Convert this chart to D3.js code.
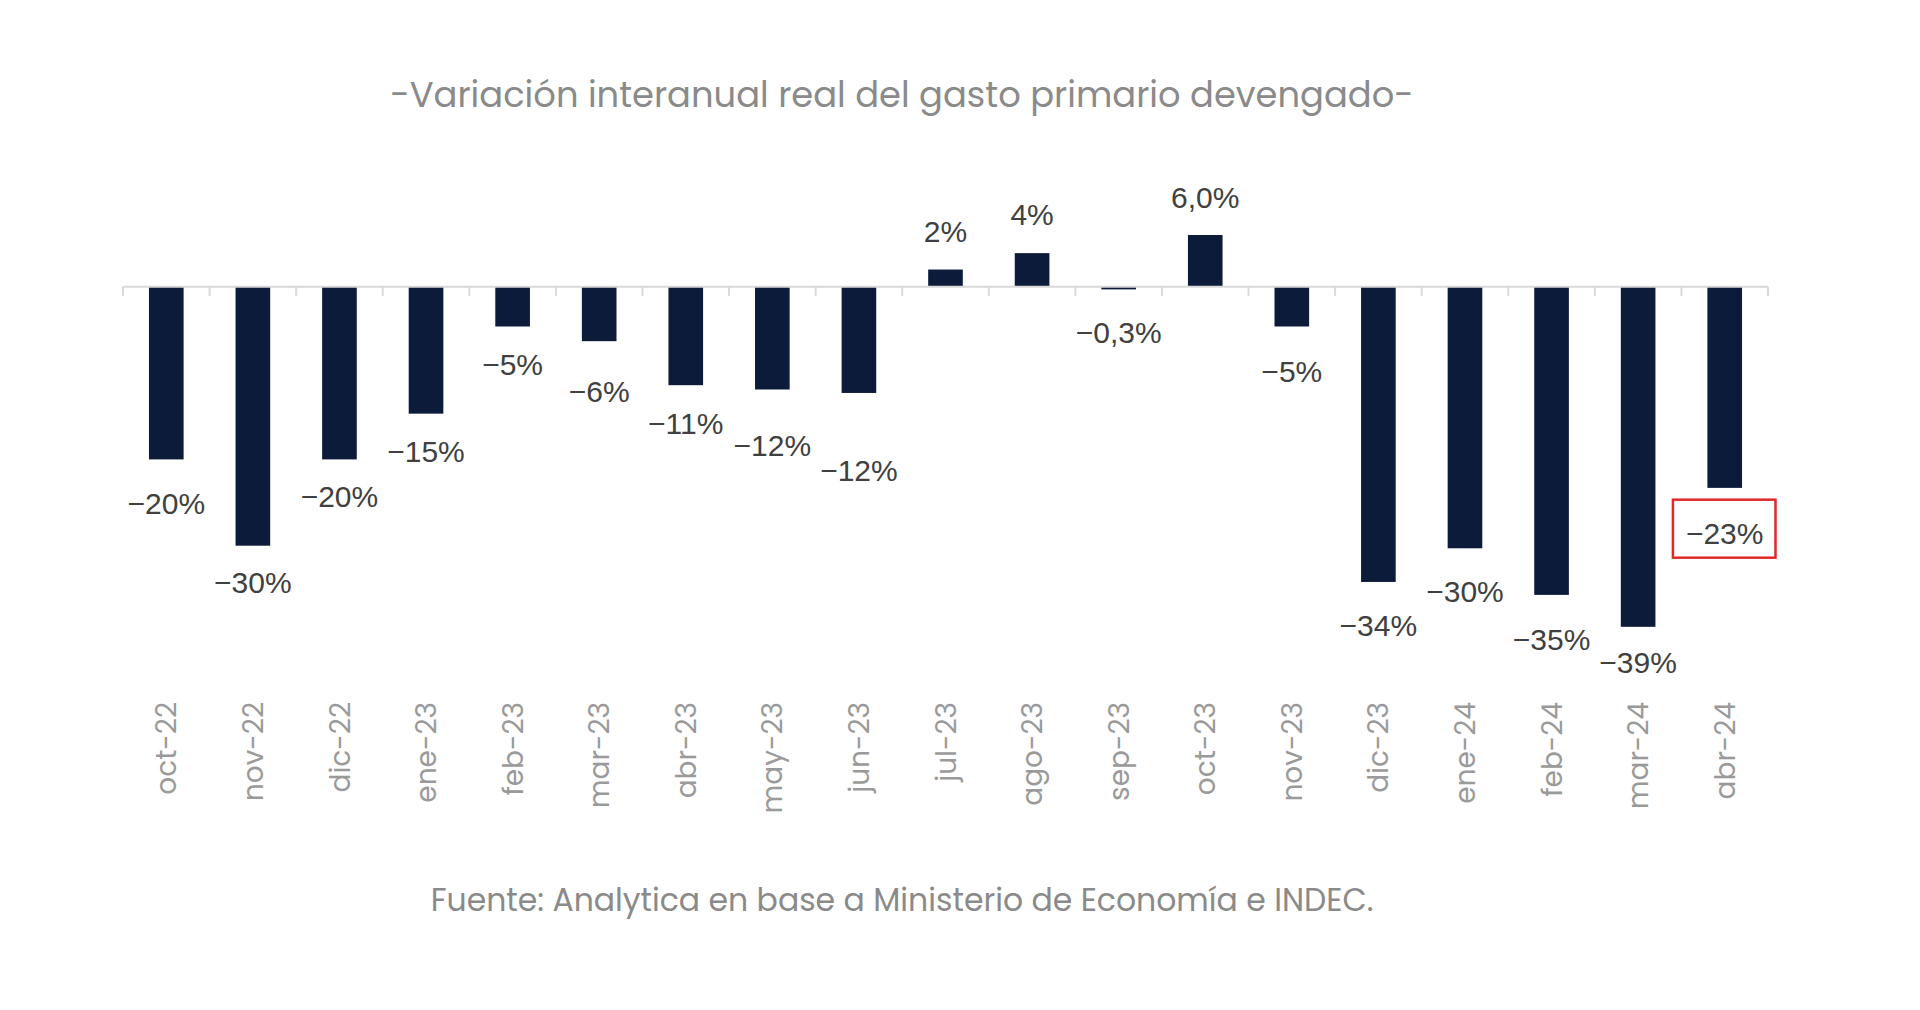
<!DOCTYPE html>
<html>
<head>
<meta charset="utf-8">
<script src="https://cdn.jsdelivr.net/npm/d3@7/dist/d3.min.js"></script>
<style>
  body { margin: 0; background: #ffffff; }
</style>
</head>
<body>
<svg></svg>
<script>
// Datos
var months = ["oct-22", "nov-22", "dic-22", "ene-23", "feb-23", "mar-23", "abr-23", "may-23", "jun-23",
              "jul-23", "ago-23", "sep-23", "oct-23", "nov-23", "dic-23", "ene-24", "feb-24", "mar-24", "abr-24"];
var values = [-20.0, -30.0, -20.0, -14.7, -4.6, -6.3, -11.4, -11.9, -12.3,
              2.0, 3.9, -0.3, 6.0, -4.6, -34.2, -30.3, -35.7, -39.4, -23.3];
var valueLabels = ["−20%", "−30%", "−20%", "−15%", "−5%", "−6%", "−11%", "−12%", "−12%",
                   "2%", "4%", "−0,3%", "6,0%", "−5%", "−34%", "−30%", "−35%", "−39%", "−23%"];
var highlight = "abr-24";

var titleText = "-Variación interanual real del gasto primario devengado-";
var sourceText = "Fuente: Analytica en base a Ministerio de Economía e INDEC.";

// distancia de cada etiqueta al extremo de su barra (como en el original, puestas a mano)
var labelGap = [44, 36, 37, 38, 38, 50, 38, 56, 77, 38, 39, 43, 38, 45, 43, 43, 44, 35, 45];

var width = 1920;
var height = 1010;
var svg = d3.select("svg").attr("width", width).attr("height", height);

var x = d3.scaleBand()
    .domain(months)
    .range([123, 1768])
    .paddingInner(0.6)
    .paddingOuter(0.3);

var y = d3.scaleLinear()
    .domain([-40, 10])
    .range([632, 200.5]);

// ajusta el tamaño de letra a un ancho dado
function fitText(sel, w) {
    var len = sel.node().getComputedTextLength();
    var fs = parseFloat(sel.attr("font-size"));
    sel.attr("font-size", fs * w / len);
}

// Titulo
var title = svg.append("text")
    .attr("x", 902)
    .attr("y", 107)
    .attr("text-anchor", "middle")
    .attr("font-family", "Poppins, Inter, sans-serif")
    .attr("font-size", 35)
    .attr("fill", "#8a8a8a")
    .text(titleText);
fitText(title, 1024);

// Barras
svg.append("g").selectAll("rect")
    .data(values)
    .enter().append("rect")
    .attr("x", (d, i) => x(months[i]))
    .attr("y", d => y(Math.max(0, d)))
    .attr("width", x.bandwidth())
    .attr("height", d => Math.abs(y(d) - y(0)))
    .attr("fill", "#0c1b3a");

// Eje
var step = x.step();
var x0 = x.range()[0];
var axis = svg.append("g").attr("stroke", "#d9d9d9").attr("stroke-width", 2);
axis.append("line")
    .attr("x1", x0).attr("x2", x.range()[1])
    .attr("y1", y(0)).attr("y2", y(0));
axis.selectAll(".tick")
    .data(d3.range(months.length + 1))
    .enter().append("line")
    .attr("x1", i => x0 + i * step)
    .attr("x2", i => x0 + i * step)
    .attr("y1", y(0))
    .attr("y2", y(0) + 9);

// Etiquetas de valores
var lbl = svg.append("g").selectAll("text")
    .data(values)
    .enter().append("text")
    .attr("x", (d, i) => x(months[i]) + x.bandwidth() / 2)
    .attr("y", (d, i) => d >= 0 ? y(d) - labelGap[i] : y(d) + labelGap[i])
    .attr("dy", "0.36em")
    .attr("text-anchor", "middle")
    .attr("font-family", "'Liberation Sans', Arial, sans-serif")
    .attr("font-size", 30)
    .attr("fill", "#404040")
    .text((d, i) => valueLabels[i]);

// Recuadro rojo del ultimo dato
var hi = lbl.filter((d, i) => months[i] === highlight).node().getBBox();
svg.append("rect")
    .attr("x", hi.x - 13)
    .attr("y", hi.y - 17)
    .attr("width", hi.width + 25)
    .attr("height", hi.height + 25)
    .attr("fill", "none")
    .attr("stroke", "#e02828")
    .attr("stroke-width", 2.5);

// Etiquetas del eje x (rotadas)
svg.append("g").selectAll("text")
    .data(months)
    .enter().append("text")
    .attr("transform", d => "translate(" + (x(d) + x.bandwidth() / 2) + ",702) rotate(-90)")
    .attr("dy", "0.36em")
    .attr("text-anchor", "end")
    .attr("font-family", "Poppins, Inter, sans-serif")
    .attr("font-size", 28)
    .attr("fill", "#9a9a9a")
    .text(d => d);

// Fuente
var source = svg.append("text")
    .attr("x", 902)
    .attr("y", 911)
    .attr("text-anchor", "middle")
    .attr("font-family", "Poppins, Inter, sans-serif")
    .attr("font-size", 30)
    .attr("fill", "#8a8a8a")
    .text(sourceText);
fitText(source, 943);
</script>
</body>
</html>
